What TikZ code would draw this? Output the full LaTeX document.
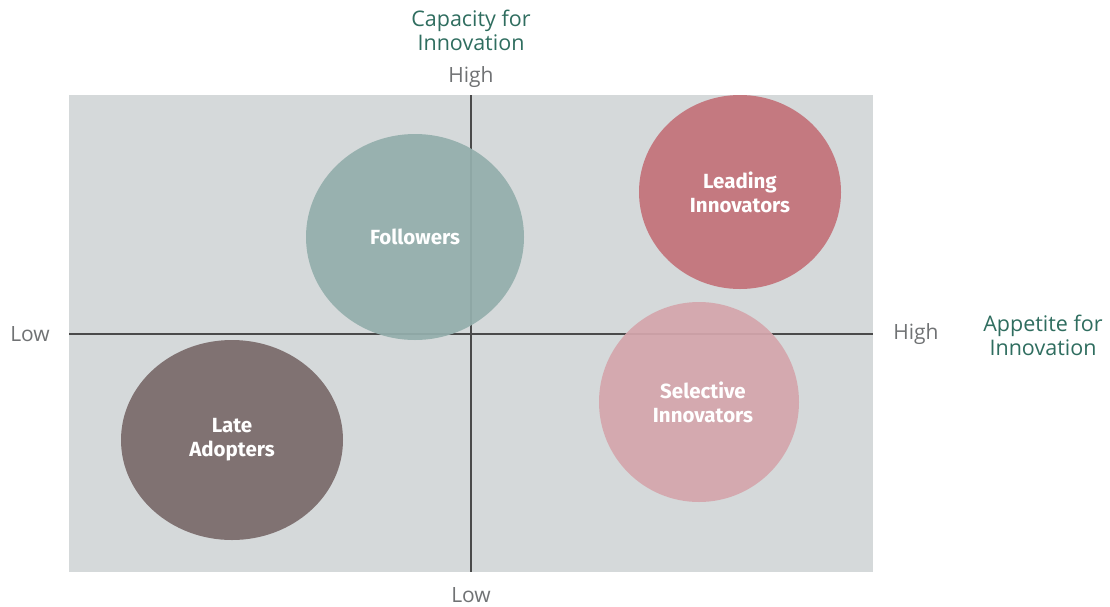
\documentclass[tikz,border=0pt]{standalone}
\usepackage{fontspec}
\setmainfont{Open Sans}
\newfontfamily\bubblefont{Fira Sans}
\usetikzlibrary{shapes.geometric}
\definecolor{panel}{HTML}{D5D9DA}
\definecolor{axisline}{HTML}{4A4A4A}
\definecolor{axistitle}{HTML}{2F6D5F}
\definecolor{ticklabel}{HTML}{707274}
\definecolor{follow}{HTML}{94AFAC}
\definecolor{leading}{HTML}{C3727A}
\definecolor{selective}{HTML}{D4A6AC}
\definecolor{late}{HTML}{7A6B6B}
\begin{document}
\begin{tikzpicture}[x=1pt,y=-1pt,
  bubble/.style={ellipse,inner sep=0pt,fill opacity=0.93,text opacity=1,
    text=white,align=center,font=\bubblefont\bfseries\fontsize{20.5}{24}\selectfont},
  title/.style={text=axistitle,align=center,font=\fontsize{21.5}{24}\selectfont},
  tick/.style={text=ticklabel,font=\fontsize{21}{24}\selectfont},
  axis/.style={draw=axisline,line width=1.8pt}]
  \useasboundingbox (0,0) rectangle (1110,606);
  % quadrant panel
  \fill[panel] (69,95) rectangle (873,572);
  % axes
  \coordinate (top) at (471,95);
  \coordinate (bottom) at (471,572);
  \coordinate (left) at (69,334);
  \coordinate (right) at (873,334);
  \draw[axis] (top) -- (bottom);
  \draw[axis] (left) -- (right);
  % segments
  \node[bubble,fill=follow,minimum width=218pt,minimum height=206pt] (followers) at (415,237) {Followers};
  \node[bubble,fill=leading,minimum width=202pt,minimum height=194pt] (leadinn) at (740,192) {Leading\\Innovators};
  \node[bubble,fill=selective,minimum width=200pt,minimum height=200pt] (selinn) at (699,402) {\hspace*{8pt}Selective\\\hspace*{8pt}Innovators};
  \node[bubble,fill=late,minimum width=222pt,minimum height=200pt] (late) at (232,440) {Late\\Adopters};
  % axis labels
  \node[title] (capacity) at (471,30) {Capacity for\\Innovation};
  \node[tick,anchor=base] (high1) at (471,82) {High};
  \node[tick,anchor=base] (low1) at (471,602) {Low};
  \node[tick] (low2) at (30,334) {Low};
  \node[tick] (high2) at (916,334) {High};
  \node[title] (appetite) at (1043,335) {Appetite for\\Innovation};
\end{tikzpicture}
\end{document}
